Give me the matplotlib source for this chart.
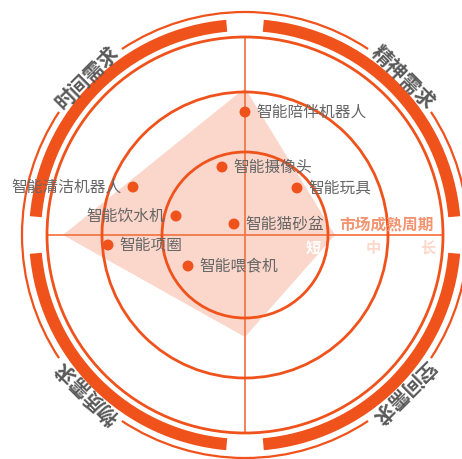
import numpy as np
import matplotlib
matplotlib.use("Agg")
import matplotlib.pyplot as plt
from matplotlib.patches import Circle, Wedge, Arc, Polygon

plt.rcParams['font.family'] = ['Noto Sans CJK SC', 'DejaVu Sans']

# ---- data ----
products = ['智能陪伴机器人', '智能摄像头', '智能玩具', '智能清洁机器人',
            '智能饮水机', '智能猫砂盆', '智能项圈', '智能喂食机']
prod_x = [0, -23, 52, -112, -69, -11, -137, -57]
prod_y = [123, 68, 47, 48, 19, 11, -10, -31]
label_side = ['right', 'right', 'right', 'left', 'left', 'right', 'right', 'right']

radar_angles = [90, 0, 270, 180]
radar_values = [147, 90, 102, 182]

ring_radii = [83, 143, 198]
ring_labels = ['短', '中', '长']
axis_name = '市场成熟周期'

quadrant_names = ['精神需求', '时间需求', '物质需求', '空间需求']
quadrant_angles = [45, 135, 225, 315]

# ---- style ----
ORANGE = '#f0521c'
LINE = '#f3784a'
FILL = '#fbd6ca'
GRAY = '#666666'

fig = plt.figure(figsize=(4.62, 4.59), dpi=100)
ax = fig.add_axes([0, 0, 1, 1])
ax.set_xlim(-245, 217)
ax.set_ylim(-224, 235)
ax.set_aspect('equal')
ax.axis('off')

# radar polygon
a = np.deg2rad(radar_angles)
pts = np.column_stack([np.array(radar_values) * np.cos(a), np.array(radar_values) * np.sin(a)])
poly = Polygon(pts, closed=True, facecolor=FILL, edgecolor='none', zorder=1)
ax.add_patch(poly)

# axis lines
R = ring_radii[-1]
ax.plot([-R, R], [0, 0], color=LINE, lw=1.3, zorder=2)
ax.plot([0, 0], [-R, R], color=LINE, lw=1.3, zorder=2)

# rings
for r in ring_radii:
    ax.add_patch(Circle((0, 0), r, fill=False, edgecolor=ORANGE, lw=2.0, zorder=3))

# thick bands with gaps at axes
gap = 5
for k in range(4):
    ax.add_patch(Wedge((0, 0), 216, 90 * k + gap, 90 * (k + 1) - gap, width=12,
                       facecolor=ORANGE, edgecolor='none', zorder=3))

# outermost arc with gaps for quadrant names
r_out = 223
tgap = 11.5
for k in range(4):
    ax.add_patch(Arc((0, 0), 2 * r_out, 2 * r_out, theta1=quadrant_angles[k] + tgap,
                     theta2=quadrant_angles[(k + 1) % 4] - tgap + (360 if k == 3 else 0),
                     color=ORANGE, lw=1.6, zorder=3))

for name, ang in zip(quadrant_names, quadrant_angles):
    t = np.deg2rad(ang)
    ax.text(r_out * np.cos(t), r_out * np.sin(t), name, rotation=ang - 90,
            rotation_mode='anchor', ha='center', va='center', fontsize=14.5,
            fontweight='bold', color='#595959', zorder=5)

# axis name and ring labels
ax.text(189, 10, axis_name, ha='right', va='center', fontsize=11.3,
        fontweight='bold', color='#f39470', zorder=5)
poly_path = poly.get_path().transformed(poly.get_patch_transform())
for r, lab in zip(ring_radii, ring_labels):
    lx, ly = r - 15, -13
    col = '#ffffff' if poly_path.contains_point((lx, ly)) else '#fdd8ca'
    ax.text(lx, ly, lab, ha='center', va='center', fontsize=11,
            fontweight='bold', color=col, zorder=5)

# product points
ax.scatter(prod_x, prod_y, s=62, color=ORANGE, edgecolors='none', zorder=6)
for name, x, y, side in zip(products, prod_x, prod_y, label_side):
    if side == 'right':
        ax.text(x + 11, y, name, ha='left', va='center', fontsize=11.3, color=GRAY, zorder=7)
    else:
        ax.text(x - 11, y, name, ha='right', va='center', fontsize=11.3, color=GRAY, zorder=7)

fig.savefig('out.png', dpi=100)
